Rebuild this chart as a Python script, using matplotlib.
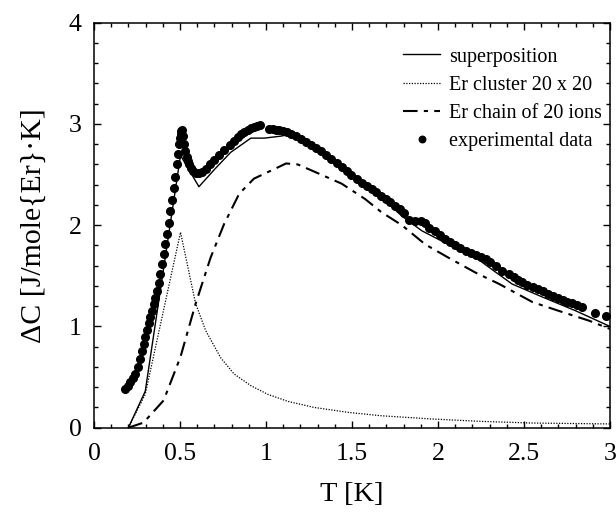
import matplotlib
matplotlib.use("Agg")
import matplotlib.pyplot as plt
from matplotlib.ticker import MultipleLocator, FuncFormatter

plt.rcParams['font.family'] = ['Liberation Serif', 'DejaVu Serif']

# experimental data (T [K], dC)
exp_T = [0.18, 0.195, 0.21, 0.225, 0.24, 0.255, 0.269, 0.28, 0.288, 0.298,
         0.308, 0.318, 0.327, 0.337, 0.347, 0.357, 0.367, 0.376, 0.386, 0.395,
         0.405, 0.415, 0.425, 0.435, 0.444, 0.454, 0.464, 0.472, 0.48, 0.487,
         0.493, 0.498, 0.503, 0.508, 0.513, 0.518, 0.522, 0.53, 0.538, 0.545,
         0.552, 0.565, 0.577, 0.593, 0.61, 0.63, 0.649, 0.673, 0.698, 0.727,
         0.756, 0.79, 0.815, 0.835, 0.854, 0.873, 0.893, 0.912, 0.932, 0.95,
         0.967, 1.02, 1.04, 1.058, 1.078, 1.098, 1.12, 1.146, 1.175, 1.205,
         1.235, 1.263, 1.29, 1.32, 1.35, 1.38, 1.41, 1.44, 1.47, 1.497,
         1.527, 1.556, 1.585, 1.614, 1.642, 1.67, 1.695, 1.72, 1.75, 1.78,
         1.80, 1.83, 1.867, 1.90, 1.926, 1.95, 1.98, 2.01, 2.04, 2.07,
         2.10, 2.13, 2.16, 2.19, 2.22, 2.25, 2.277, 2.30, 2.335, 2.374,
         2.41, 2.44, 2.465, 2.49, 2.52, 2.55, 2.58, 2.608, 2.637, 2.667,
         2.695, 2.725, 2.75, 2.78, 2.81, 2.84, 2.91, 2.975]
exp_C = [0.38, 0.41, 0.45, 0.49, 0.53, 0.60, 0.68, 0.76, 0.83, 0.90,
         0.96, 1.03, 1.09, 1.15, 1.22, 1.28, 1.35, 1.43, 1.52, 1.62,
         1.72, 1.81, 1.91, 2.02, 2.14, 2.25, 2.37, 2.48, 2.60, 2.70,
         2.80, 2.86, 2.90, 2.93, 2.94, 2.88, 2.80, 2.73, 2.67, 2.63,
         2.60, 2.56, 2.54, 2.52, 2.52, 2.53, 2.555, 2.60, 2.64, 2.69,
         2.74, 2.79, 2.83, 2.87, 2.90, 2.92, 2.94, 2.96, 2.97, 2.98,
         2.99, 2.95, 2.95, 2.94, 2.94, 2.93, 2.92, 2.90, 2.88, 2.85,
         2.82, 2.795, 2.76, 2.73, 2.69, 2.65, 2.61, 2.57, 2.535, 2.50,
         2.46, 2.42, 2.39, 2.36, 2.325, 2.29, 2.26, 2.225, 2.19, 2.16,
         2.12, 2.05, 2.04, 2.04, 2.02, 1.97, 1.945, 1.90, 1.86, 1.83,
         1.80, 1.775, 1.75, 1.73, 1.71, 1.69, 1.666, 1.635, 1.60, 1.55,
         1.52, 1.49, 1.46, 1.435, 1.41, 1.39, 1.37, 1.35, 1.325, 1.30,
         1.28, 1.26, 1.245, 1.23, 1.21, 1.19, 1.13, 1.10]

# superposition
sup_T = [0.20, 0.298, 0.503, 0.61, 0.70, 0.795, 0.912, 0.99, 1.088, 1.146,
         1.30, 1.44, 1.556, 1.67, 1.79, 1.906, 2.06, 2.22, 2.316, 2.43,
         2.608, 2.80, 3.0]
sup_C = [0.0, 0.36, 2.69, 2.38, 2.55, 2.72, 2.86, 2.86, 2.88, 2.90,
         2.74, 2.56, 2.41, 2.28, 2.09, 1.945, 1.81, 1.68, 1.56, 1.42,
         1.29, 1.155, 1.00]

# Er cluster 20 x 20
clu_T = [0.20, 0.298, 0.503, 0.59, 0.649, 0.737, 0.815, 0.912, 1.01, 1.127,
         1.28, 1.48, 1.67, 1.965, 2.257, 2.55, 3.0]
clu_C = [0.0, 0.33, 1.93, 1.23, 0.96, 0.69, 0.53, 0.415, 0.33, 0.26,
         0.20, 0.151, 0.118, 0.086, 0.062, 0.046, 0.037]

# Er chain of 20 ions
cha_T = [0.20, 0.288, 0.405, 0.503, 0.59, 0.678, 0.756, 0.844, 0.93, 1.049,
         1.117, 1.185, 1.32, 1.44, 1.575, 1.67, 1.79, 1.926, 2.06, 2.22,
         2.355, 2.55, 2.70, 2.88, 3.0]
cha_C = [0.0, 0.05, 0.27, 0.70, 1.22, 1.68, 2.01, 2.31, 2.46, 2.555,
         2.61, 2.60, 2.50, 2.41, 2.26, 2.13, 2.00, 1.81, 1.68, 1.53,
         1.42, 1.24, 1.155, 1.056, 0.975]

fig = plt.figure(figsize=(6.16, 5.14), dpi=100)
ax = fig.add_axes([94 / 616, 1 - 427.7 / 514, (610 - 94) / 616, (427.7 - 22.7) / 514])

ax.plot(sup_T, sup_C, color='black', lw=1.0, label='superposition')
ax.plot(clu_T, clu_C, color='black', lw=0.9, linestyle=(0, (1, 1.2)), label='Er cluster 20 x 20')
ax.plot(cha_T, cha_C, color='black', lw=1.5, linestyle=(0, (7, 3, 2, 3)), label='Er chain of 20 ions')
ax.plot(exp_T, exp_C, 'o', color='black', ms=5.5, mec='black', label='experimental data')

ax.set_xlim(0, 3)
ax.set_ylim(0, 4)
ax.xaxis.set_major_locator(MultipleLocator(0.5))
ax.xaxis.set_minor_locator(MultipleLocator(0.1))
ax.yaxis.set_major_locator(MultipleLocator(1))
ax.yaxis.set_minor_locator(MultipleLocator(0.2))
ax.xaxis.set_major_formatter(FuncFormatter(lambda v, p: f"{v:g}"))
ax.tick_params(which='both', direction='in', top=True, right=True, width=1.0)
ax.tick_params(which='major', length=5, labelsize=18.5)
ax.tick_params(which='minor', length=3)
ax.tick_params(axis='x', which='major', pad=11)
ax.tick_params(axis='y', which='major', pad=9)
for s in ax.spines.values():
    s.set_linewidth(1.1)

ax.set_xlabel('T [K]', fontsize=20.5, labelpad=12)
ax.set_ylabel('ΔC [J/mole{Er}·K]', fontsize=21.5, labelpad=16)

leg = ax.legend(loc='upper left', bbox_to_anchor=(0.599, 0.939), frameon=False,
                fontsize=14.5, handlelength=1.83, handletextpad=0.45,
                labelspacing=0.45, numpoints=1, markerscale=0.85,
                borderpad=0, borderaxespad=0)

fig.savefig('out.png', dpi=100)
